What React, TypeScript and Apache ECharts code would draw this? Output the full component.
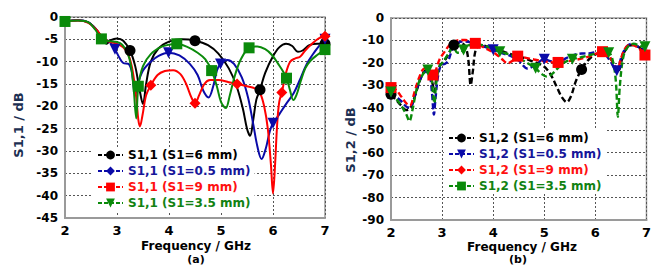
import React, { useEffect, useRef } from "react";
import * as echarts from "echarts";

type Pt = [number, number];

// ---------- (a) S1,1 ----------
const S11_NAMES = ["S1,1 (S1=6 mm)", "S1,1 (S1=0.5 mm)", "S1,1 (S1=9 mm)", "S1,1 (S1=3.5 mm)"];

const S11_6MM: Pt[] = [
  [2, -1], [2.25, -0.7], [2.45, -1.2], [2.6, -2.8], [2.72, -4.8], [2.8, -6], [2.88, -5.2], [3.0, -4.8],
  [3.12, -5.3], [3.25, -7.5], [3.35, -11], [3.43, -16], [3.5, -19.5], [3.56, -15], [3.65, -10], [3.8, -7],
  [4.0, -5.5], [4.25, -5], [4.5, -5.3], [4.75, -6.3], [4.95, -8.2], [5.15, -11.5], [5.3, -15.5], [5.42, -20.5],
  [5.5, -25], [5.56, -26.6], [5.62, -23], [5.68, -18.5], [5.75, -16.3], [5.85, -12.5], [6.0, -8.8], [6.12, -6.8],
  [6.25, -6], [6.37, -6.5], [6.48, -7.8], [6.57, -7.5], [6.7, -6.3], [6.85, -6], [7, -6],
];
const S11_6MM_MARKS = [3.25, 4.5, 5.75, 7];

const S11_05MM: Pt[] = [
  [2, -1], [2.25, -0.7], [2.45, -1.2], [2.6, -2.8], [2.72, -4.8], [2.85, -5.5], [2.96, -7.2], [3.05, -9.2],
  [3.12, -10.3], [3.22, -10.5], [3.28, -12], [3.35, -17.5], [3.4, -15], [3.5, -12], [3.65, -10], [3.8, -8.7],
  [3.99, -8], [4.2, -8.6], [4.4, -10.5], [4.55, -13], [4.66, -16.5], [4.76, -18], [4.85, -15.5], [4.92, -12],
  [4.99, -10.5], [5.12, -9.6], [5.25, -10.5], [5.4, -13.5], [5.52, -18], [5.62, -24], [5.7, -29], [5.78, -31.8],
  [5.86, -29.5], [5.94, -25.5], [6.0, -23.8], [6.12, -21.8], [6.25, -19.5], [6.4, -17], [6.52, -14], [6.65, -10.5],
  [6.8, -7.8], [6.92, -6], [7, -5],
];
const S11_05MM_MARKS = [2.96, 3.99, 4.99, 6.0, 7];

const S11_9MM: Pt[] = [
  [2, -1], [2.25, -0.8], [2.45, -1.3], [2.6, -2.8], [2.72, -4.5], [2.85, -5.5], [3.0, -6], [3.12, -6.8],
  [3.22, -8.5], [3.3, -12], [3.37, -18], [3.41, -23], [3.44, -24.5], [3.49, -22], [3.56, -17.5], [3.65, -15.3],
  [3.78, -13], [3.92, -12.1], [4.08, -11.9], [4.22, -12.8], [4.33, -15], [4.43, -18], [4.5, -19.3], [4.58, -17.5],
  [4.68, -15], [4.79, -14.1], [4.95, -14.1], [5.15, -14.6], [5.31, -15], [5.5, -15.5], [5.65, -16], [5.75, -17],
  [5.83, -20], [5.9, -25], [5.96, -33], [6.0, -39.5], [6.04, -33], [6.08, -24], [6.12, -19], [6.17, -16.9],
  [6.25, -12.5], [6.33, -10], [6.42, -9.3], [6.52, -8.9], [6.62, -7.5], [6.75, -6], [6.88, -4.8], [7, -4.3],
];
const S11_9MM_MARKS = [3.65, 4.5, 5.31, 6.17, 7];

const S11_35MM: Pt[] = [
  [2, -1], [2.25, -0.8], [2.45, -1.2], [2.58, -2.8], [2.7, -4.9], [2.85, -5.4], [3.0, -5.6], [3.1, -6.2],
  [3.2, -8], [3.27, -11], [3.32, -16], [3.37, -22.7], [3.41, -15.5], [3.5, -11], [3.65, -8.3], [3.85, -6.7],
  [4.0, -6.2], [4.15, -6], [4.35, -6.7], [4.55, -8], [4.7, -9.5], [4.82, -12], [4.92, -15.5], [5.0, -19],
  [5.09, -20.4], [5.17, -17.5], [5.27, -13], [5.38, -9.5], [5.54, -6.9], [5.7, -6.6], [5.85, -7.2], [5.98, -8.5],
  [6.1, -10.5], [6.2, -12.3], [6.26, -13.7], [6.33, -16.5], [6.39, -18.6], [6.45, -17.5], [6.53, -14.5], [6.62, -11.5],
  [6.72, -9.8], [6.85, -8.5], [7, -7.3],
];
const S11_35MM_MARKS = [2, 2.7, 3.41, 4.15, 4.82, 5.54, 6.26, 7];

// ---------- (b) S1,2 ----------
const S12_NAMES = ["S1,2 (S1=6 mm)", "S1,2 (S1=0.5 mm)", "S1,2 (S1=9 mm)", "S1,2 (S1=3.5 mm)"];

const S12_6MM: Pt[] = [
  [2, -34], [2.1, -36.5], [2.2, -39], [2.3, -41], [2.38, -40], [2.48, -34], [2.58, -27], [2.68, -23.5],
  [2.76, -25], [2.82, -30], [2.85, -33], [2.88, -28], [2.95, -21.5], [3.05, -19], [3.15, -15], [3.23, -12],
  [3.35, -11], [3.45, -12.5], [3.51, -18], [3.56, -29.9], [3.6, -24], [3.66, -14], [3.75, -12], [3.9, -12.8],
  [4.1, -14.2], [4.3, -15.8], [4.5, -17], [4.67, -18.4], [4.85, -20], [4.99, -21.5], [5.12, -25], [5.25, -31],
  [5.35, -35.5], [5.44, -37.5], [5.52, -35], [5.62, -28], [5.73, -22.9], [5.85, -19], [5.98, -16.5], [6.12, -15.5],
  [6.25, -17], [6.35, -20], [6.42, -24], [6.47, -23], [6.55, -16], [6.65, -12.5], [6.75, -12], [6.88, -13.5], [7, -16],
];
const S12_6MM_MARKS = [2, 3.23, 5.73];

const S12_05MM: Pt[] = [
  [2, -33], [2.1, -35], [2.2, -37], [2.3, -39.5], [2.37, -40], [2.46, -35], [2.56, -28], [2.66, -24],
  [2.75, -25], [2.8, -33], [2.84, -43], [2.87, -36], [2.92, -26], [2.98, -21], [3.05, -20.5], [3.12, -19],
  [3.2, -14], [3.3, -11], [3.45, -10.5], [3.65, -11.5], [3.85, -13], [4.0, -14.2], [4.15, -15.5], [4.35, -17],
  [4.5, -19], [4.67, -22.5], [4.82, -21], [5.0, -18.4], [5.12, -19.2], [5.27, -20], [5.42, -18], [5.6, -16.3],
  [5.75, -15.8], [5.9, -15.7], [6.05, -15], [6.18, -16], [6.3, -19.5], [6.42, -23.5], [6.5, -18], [6.6, -13],
  [6.7, -11.5], [6.85, -13], [7, -15],
];
const S12_05MM_MARKS = [2, 4.0, 5.0, 6.42];

const S12_9MM: Pt[] = [
  [2, -31], [2.1, -32], [2.2, -35], [2.3, -38], [2.37, -39], [2.46, -33], [2.56, -26], [2.66, -22.5],
  [2.75, -23.5], [2.82, -25.4], [2.88, -23], [2.95, -18.5], [3.05, -15], [3.15, -12], [3.3, -10], [3.45, -9.8],
  [3.65, -11.3], [3.85, -13.5], [4.05, -16], [4.18, -18.5], [4.28, -20.2], [4.38, -19], [4.48, -17], [4.6, -17.5],
  [4.8, -18.5], [5.0, -19.3], [5.15, -19.7], [5.27, -19.8], [5.45, -19.3], [5.65, -18.5], [5.85, -17.3], [6.0, -16],
  [6.14, -15], [6.27, -17], [6.37, -21], [6.43, -23], [6.5, -18], [6.6, -13], [6.7, -11.8], [6.85, -13.5], [6.97, -16.5],
];
const S12_9MM_MARKS = [2, 2.82, 3.65, 4.48, 5.27, 6.14, 6.97];

const S12_35MM: Pt[] = [
  [2, -33], [2.1, -36], [2.2, -39], [2.3, -43], [2.36, -46], [2.42, -41], [2.5, -32], [2.6, -26],
  [2.72, -23.2], [2.78, -25], [2.82, -33], [2.85, -38], [2.88, -30], [2.94, -22], [3.02, -19.5], [3.12, -16],
  [3.22, -13], [3.3, -15.5], [3.36, -15.5], [3.42, -14.3], [3.55, -12], [3.75, -12], [3.95, -13.3], [4.13, -15],
  [4.35, -16.5], [4.55, -18.5], [4.7, -20.5], [4.83, -22.4], [4.95, -25], [5.05, -26.1], [5.15, -25], [5.3, -21.5],
  [5.42, -19.5], [5.55, -18.4], [5.72, -17.5], [5.9, -16.5], [6.08, -15.5], [6.26, -15.5], [6.34, -19], [6.4, -28],
  [6.44, -44], [6.48, -30], [6.55, -17], [6.65, -12.5], [6.75, -11.5], [6.88, -12.5], [6.97, -12.8],
];
const S12_35MM_MARKS = [2, 2.72, 3.42, 4.13, 4.83, 5.55, 6.26, 6.97];

const COLORS = ["#000000", "#0a0aa8", "#ff0000", "#0a8a0a"];
const TEXT_COLORS = ["#000000", "#16169a", "#ff1010", "#128212"];
const FONT = "DejaVu Sans";

type Sym = { symbol: string; rotate: number };
const CIRCLE: Sym = { symbol: "circle", rotate: 0 };
const TRI_DOWN: Sym = { symbol: "triangle", rotate: 180 };
const DIAMOND: Sym = { symbol: "diamond", rotate: 0 };
const SQUARE: Sym = { symbol: "rect", rotate: 0 };

function buildData(points: Pt[], marks: number[]) {
  return points.map(([x, y]) =>
    marks.includes(x) ? { value: [x, y] } : { value: [x, y], symbol: "none" }
  );
}

function seriesFor(
  name: string, color: string, points: Pt[], marks: number[], sym: Sym, idx: number, dashed: boolean
) {
  return {
    type: "line",
    name,
    xAxisIndex: idx,
    yAxisIndex: idx,
    data: buildData(points, marks),
    smooth: 0.35,
    symbol: sym.symbol,
    symbolRotate: sym.rotate,
    symbolSize: 11,
    color,
    itemStyle: { color },
    lineStyle: { color, width: dashed ? 2.4 : 2, type: dashed ? [6, 3] : "solid" },
    z: 2,
  };
}

function legendSeries(name: string, color: string, sym: Sym, idx: number) {
  return {
    type: "line",
    name,
    xAxisIndex: idx,
    yAxisIndex: idx,
    data: [],
    symbol: sym.symbol,
    symbolRotate: sym.rotate,
    symbolSize: 11,
    color,
    itemStyle: { color },
    lineStyle: { color, width: 2, type: [4, 2] },
  };
}

const axisLabel = { color: "#000", fontFamily: FONT, fontWeight: "bold", fontSize: 12 };

function xAxis(idx: number) {
  return {
    type: "value",
    gridIndex: idx,
    min: 2,
    max: 7,
    interval: 1,
    axisLine: { show: true, onZero: false, lineStyle: { color: "#9a9a9a", width: 2 } },
    axisTick: { show: false },
    axisLabel: { ...axisLabel, fontSize: 13, margin: 6 },
    splitLine: { show: true, lineStyle: { color: "#555", type: [2, 2], width: 1 } },
  };
}

function yAxis(idx: number, min: number, interval: number) {
  return {
    type: "value",
    gridIndex: idx,
    min,
    max: 0,
    interval,
    axisLine: { show: true, lineStyle: { color: "#9a9a9a", width: 2 } },
    axisTick: { show: false },
    axisLabel: { ...axisLabel, margin: 7 },
    splitLine: { show: true, lineStyle: { color: "#555", type: [2, 2], width: 1 } },
  };
}

function legend(names: string[], left: number, top: number) {
  return {
    orient: "vertical",
    left,
    top,
    data: names.map((n, i) => ({ name: n, textStyle: { color: TEXT_COLORS[i] } })),
    itemWidth: 25,
    itemHeight: 11,
    itemGap: 4,
    padding: [2, 4, 2, 4],
    backgroundColor: "#ffffff",
    selectedMode: false,
    textStyle: { fontFamily: FONT, fontWeight: "bold", fontSize: 12, padding: [0, 0, 0, 0] },
  };
}

export default function App() {
  const ref = useRef<HTMLDivElement>(null);
  useEffect(() => {
    document.body.style.margin = "0";
    if (!ref.current) return;
    const chart = echarts.init(ref.current, undefined, { renderer: "svg" });

    const s11Data: [Pt[], number[]][] = [
      [S11_6MM, S11_6MM_MARKS], [S11_05MM, S11_05MM_MARKS], [S11_9MM, S11_9MM_MARKS], [S11_35MM, S11_35MM_MARKS],
    ];
    const s12Data: [Pt[], number[]][] = [
      [S12_6MM, S12_6MM_MARKS], [S12_05MM, S12_05MM_MARKS], [S12_9MM, S12_9MM_MARKS], [S12_35MM, S12_35MM_MARKS],
    ];
    const s11PlotSym = [CIRCLE, TRI_DOWN, DIAMOND, SQUARE];
    const s11LegendSym = [CIRCLE, DIAMOND, SQUARE, TRI_DOWN];
    const s12PlotSym = [CIRCLE, TRI_DOWN, SQUARE, TRI_DOWN];
    const s12LegendSym = [CIRCLE, TRI_DOWN, DIAMOND, SQUARE];

    const series: any[] = [];
    S11_NAMES.forEach((n, i) => series.push(legendSeries(n, COLORS[i], s11LegendSym[i], 0)));
    S12_NAMES.forEach((n, i) => series.push(legendSeries(n, COLORS[i], s12LegendSym[i], 1)));
    S11_NAMES.forEach((n, i) => series.push(seriesFor(n, COLORS[i], s11Data[i][0], s11Data[i][1], s11PlotSym[i], 0, false)));
    S12_NAMES.forEach((n, i) => series.push(seriesFor(n, COLORS[i], s12Data[i][0], s12Data[i][1], s12PlotSym[i], 1, true)));

    const titleText = (text: string, x: number, y: number, size: number, color = "#000", rotation = 0) => ({
      type: "text",
      x,
      y,
      rotation,
      style: {
        text,
        fill: color,
        font: `bold ${size}px "${FONT}"`,
        textAlign: "center",
        textVerticalAlign: "middle",
      },
      z: 10,
    });

    chart.setOption({
      animation: false,
      backgroundColor: "#ffffff",
      grid: [
        { left: 65, top: 17, width: 260, height: 201, show: true, borderColor: "#9a9a9a", borderWidth: 1.5, backgroundColor: "transparent" },
        { left: 391, top: 18, width: 261, height: 202, show: true, borderColor: "#9a9a9a", borderWidth: 1.5, backgroundColor: "transparent" },
      ],
      xAxis: [xAxis(0), xAxis(1)],
      yAxis: [yAxis(0, -45, 5), yAxis(1, -90, 10)],
      legend: [legend(S11_NAMES, 93, 147), legend(S12_NAMES, 444, 130)],
      graphic: [
        titleText("Frequency / GHz", 196, 246, 12),
        titleText("(a)", 196, 259.5, 11),
        titleText("Frequency / GHz", 522, 247, 12),
        titleText("(b)", 518, 259.5, 11),
        titleText("S1,1 / dB", 18, 125, 13, "#1c2f52", Math.PI / 2),
        titleText("S1,2 / dB", 350, 140, 13, "#1c2f52", Math.PI / 2),
      ],
      series,
    });
    return () => chart.dispose();
  }, []);
  return <div ref={ref} style={{ width: 654, height: 266, position: "absolute", left: 0, top: 0 }} />;
}
